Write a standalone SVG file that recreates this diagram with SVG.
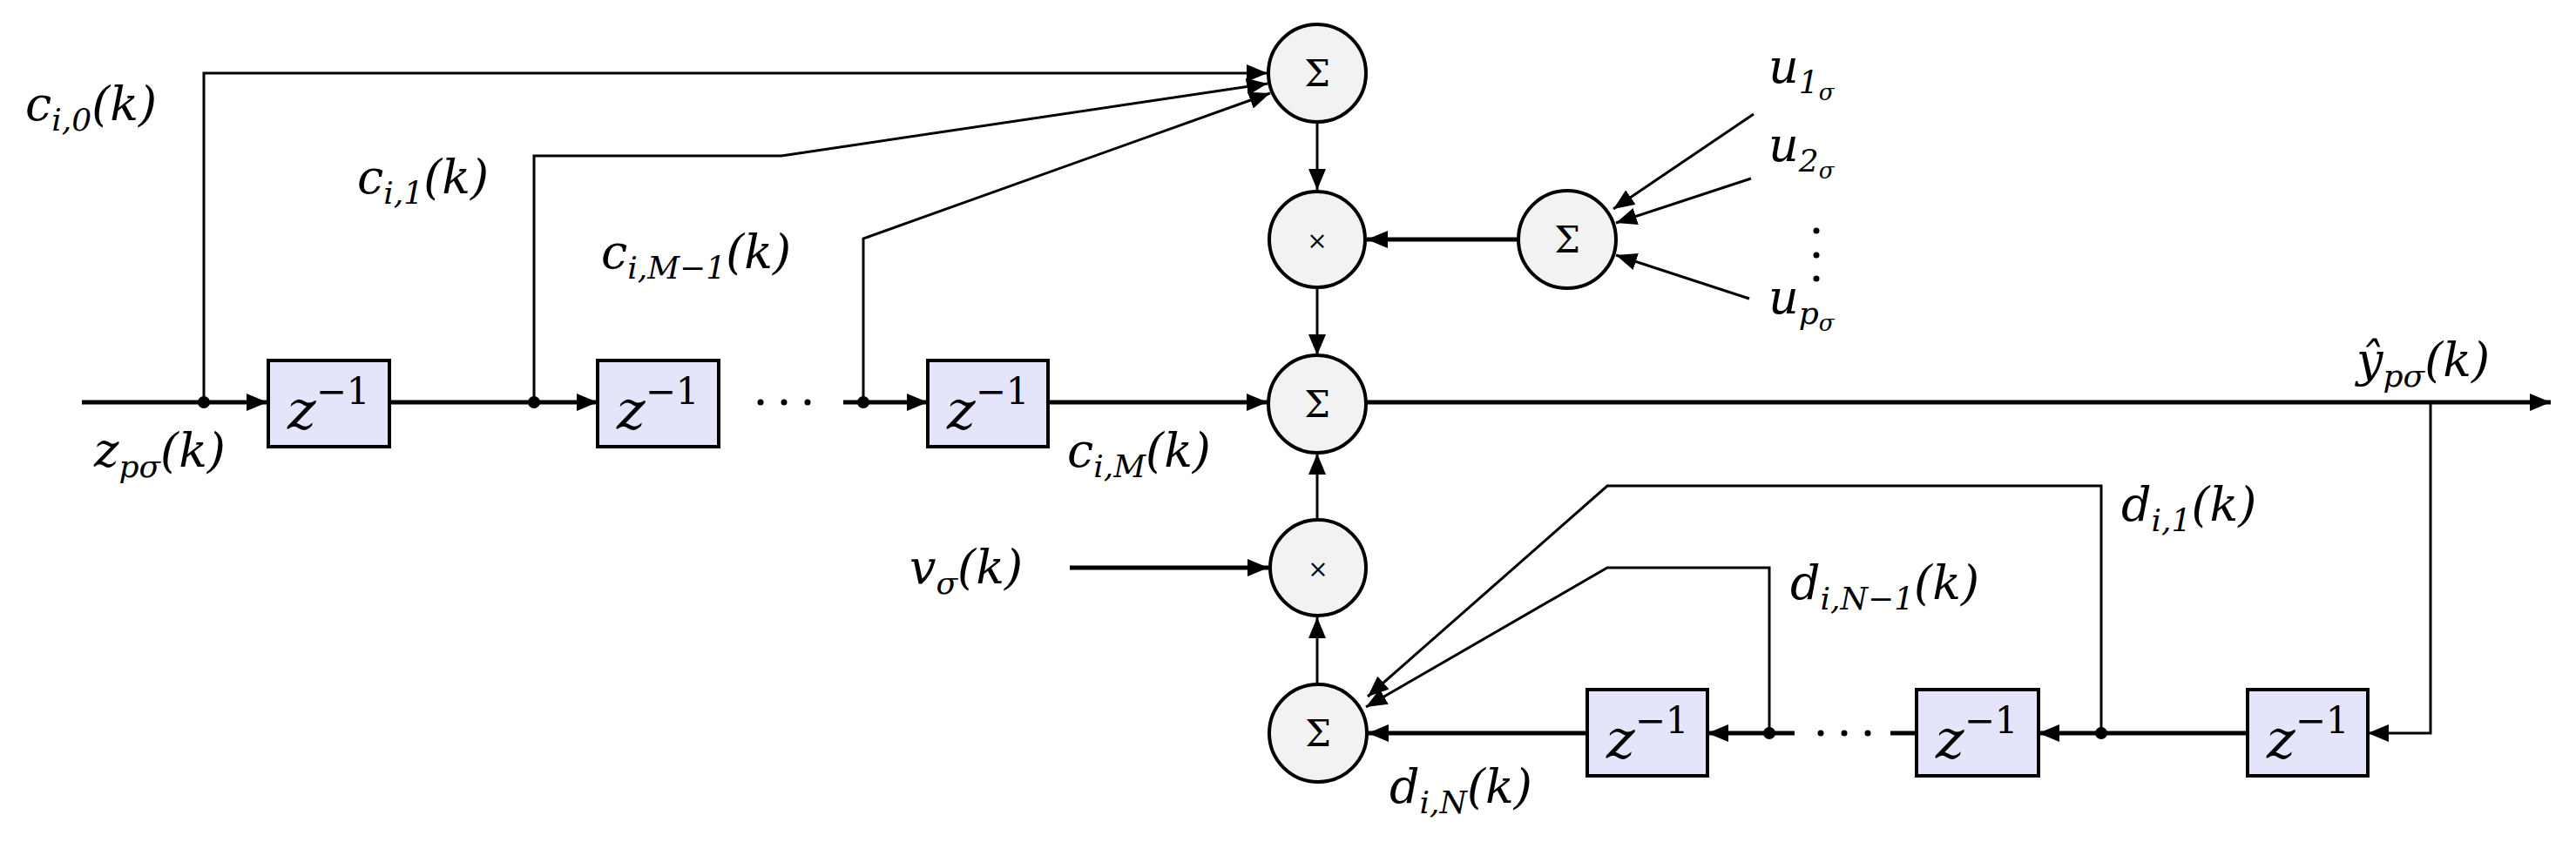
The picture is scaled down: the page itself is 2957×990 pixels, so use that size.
<svg xmlns="http://www.w3.org/2000/svg" width="2957" height="990" viewBox="0 0 2957 990">
<style>
.box{fill:#e4e4fa;stroke:#000;stroke-width:4}
.nd{fill:#f2f2f2;stroke:#000;stroke-width:4}
.t{font-family:"DejaVu Serif","Liberation Serif",serif;font-style:italic;font-size:54px}
.s{font-size:36px}
.z{font-family:"DejaVu Serif","Liberation Serif",serif;font-style:italic;font-size:62px}
.zs{font-size:42px;font-style:normal}
.op{font-family:"DejaVu Serif",serif;font-size:42px;text-anchor:middle}
.th{fill:none;stroke:#000;stroke-width:5}
.tn{fill:none;stroke:#000;stroke-width:3}
</style>
<defs>
<marker id="b" viewBox="0 0 24 20" refX="24" refY="10" markerWidth="24" markerHeight="20" markerUnits="userSpaceOnUse" orient="auto"><path d="M0,0L24,10L0,20z"/></marker>
</defs>
<g id="connectors">
<path class="th" d="M94,462H307" marker-end="url(#b)"/>
<path class="th" d="M447,462H686" marker-end="url(#b)"/>
<path class="th" d="M968,462H1065" marker-end="url(#b)"/>
<path class="th" d="M1203,462H1455" marker-end="url(#b)"/>
<path class="th" d="M1569,462H2928" marker-end="url(#b)"/>
<path class="tn" d="M234,462V84H1455" marker-end="url(#b)"/>
<path class="tn" d="M613,462V179H897L1455,96" marker-end="url(#b)"/>
<path class="tn" d="M991,462V274L1458,107" marker-end="url(#b)"/>
<path class="tn" d="M1512,141V218" marker-end="url(#b)"/>
<path class="tn" d="M1512,332V408" marker-end="url(#b)"/>
<path class="th" d="M1742,275H1569" marker-end="url(#b)"/>
<path class="tn" d="M2013,131L1852,240" marker-end="url(#b)"/>
<path class="tn" d="M2010,205L1855,256" marker-end="url(#b)"/>
<path class="tn" d="M2008,343L1855,293" marker-end="url(#b)"/>
<path class="th" d="M1228,652H1456" marker-end="url(#b)"/>
<path class="tn" d="M1512,785V709" marker-end="url(#b)"/>
<path class="tn" d="M1512,595V521" marker-end="url(#b)"/>
<path class="tn" d="M2790,462V842H2718" marker-end="url(#b)"/>
<path class="th" d="M2580,842H2340" marker-end="url(#b)"/>
<path class="th" d="M2199,842H2170"/>
<path class="th" d="M2060,842H1960" marker-end="url(#b)"/>
<path class="th" d="M1822,842H1570" marker-end="url(#b)"/>
<path class="tn" d="M2412,842V558H1845L1570,800" marker-end="url(#b)"/>
<path class="tn" d="M2031,842V652H1845L1568,812" marker-end="url(#b)"/>
<circle cx="234" cy="462" r="7"/><circle cx="613" cy="462" r="7"/><circle cx="991" cy="462" r="7"/>
<circle cx="2412" cy="842" r="7"/><circle cx="2031" cy="842" r="7"/>
<circle cx="873" cy="462" r="3.5"/><circle cx="900" cy="462" r="3.5"/><circle cx="927" cy="462" r="3.5"/>
<circle cx="2090" cy="842" r="3.5"/><circle cx="2117" cy="842" r="3.5"/><circle cx="2144" cy="842" r="3.5"/>
<circle cx="2085" cy="265" r="3.5"/><circle cx="2085" cy="293" r="3.5"/><circle cx="2085" cy="320" r="3.5"/>
</g>
<g id="d1"><rect class="box" x="308" y="414" width="139" height="99"/><text class="z" x="330" y="492">z<tspan class="zs" dy="-28">−1</tspan></text></g>
<g id="d2"><rect class="box" x="686" y="414" width="139" height="99"/><text class="z" x="708" y="492">z<tspan class="zs" dy="-28">−1</tspan></text></g>
<g id="d3"><rect class="box" x="1065" y="414" width="138" height="99"/><text class="z" x="1087" y="492">z<tspan class="zs" dy="-28">−1</tspan></text></g>
<g id="e1"><rect class="box" x="1822" y="792" width="138" height="99"/><text class="z" x="1844" y="870">z<tspan class="zs" dy="-28">−1</tspan></text></g>
<g id="e2"><rect class="box" x="2200" y="792" width="140" height="99"/><text class="z" x="2222" y="870">z<tspan class="zs" dy="-28">−1</tspan></text></g>
<g id="e3"><rect class="box" x="2580" y="792" width="138" height="99"/><text class="z" x="2602" y="870">z<tspan class="zs" dy="-28">−1</tspan></text></g>
<g id="sum1"><circle class="nd" cx="1512" cy="84" r="56"/><text class="op" x="1512" y="99">Σ</text></g>
<g id="mul1"><circle class="nd" cx="1512" cy="275" r="55"/><text class="op" x="1512" y="286" style="font-size:28px">×</text></g>
<g id="sum2"><circle class="nd" cx="1512" cy="464" r="56"/><text class="op" x="1512" y="479">Σ</text></g>
<g id="sumu"><circle class="nd" cx="1799" cy="275" r="56"/><text class="op" x="1799" y="290">Σ</text></g>
<g id="mul2"><circle class="nd" cx="1513" cy="652" r="55"/><text class="op" x="1513" y="663" style="font-size:28px">×</text></g>
<g id="sum3"><circle class="nd" cx="1513" cy="842" r="56"/><text class="op" x="1513" y="857">Σ</text></g>
<g id="labels">
<text class="t" x="29" y="138">c<tspan class="s" dy="12">i,0</tspan><tspan dy="-12">(k)</tspan></text>
<text class="t" x="410" y="222">c<tspan class="s" dy="12">i,1</tspan><tspan dy="-12">(k)</tspan></text>
<text class="t" x="690" y="308">c<tspan class="s" dy="12">i,M−1</tspan><tspan dy="-12">(k)</tspan></text>
<text class="t" x="108" y="536">z<tspan class="s" dy="12">pσ</tspan><tspan dy="-12">(k)</tspan></text>
<text class="t" x="1225" y="536">c<tspan class="s" dy="12">i,M</tspan><tspan dy="-12">(k)</tspan></text>
<text class="t" x="2030" y="95">u<tspan class="s" dy="12">1</tspan><tspan class="s" dy="8" style="font-size:26px">σ</tspan></text>
<text class="t" x="2030" y="185">u<tspan class="s" dy="12">2</tspan><tspan class="s" dy="8" style="font-size:26px">σ</tspan></text>
<text class="t" x="2030" y="360">u<tspan class="s" dy="12">p</tspan><tspan class="s" dy="8" style="font-size:26px">σ</tspan></text>
<text class="t" x="2705" y="432">ŷ<tspan class="s" dy="12">pσ</tspan><tspan dy="-12">(k)</tspan></text>
<text class="t" x="2435" y="598">d<tspan class="s" dy="12">i,1</tspan><tspan dy="-12">(k)</tspan></text>
<text class="t" x="2055" y="688">d<tspan class="s" dy="12">i,N−1</tspan><tspan dy="-12">(k)</tspan></text>
<text class="t" x="1044" y="670">v<tspan class="s" dy="12">σ</tspan><tspan dy="-12">(k)</tspan></text>
<text class="t" x="1595" y="922">d<tspan class="s" dy="12">i,N</tspan><tspan dy="-12">(k)</tspan></text>
</g>
</svg>
